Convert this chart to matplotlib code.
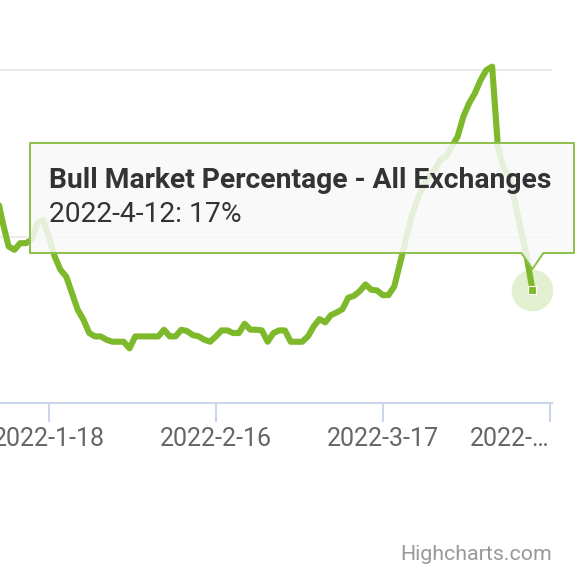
"""Bull market percentage line chart, Highcharts-style with hover tooltip."""

import matplotlib
matplotlib.use("Agg")
import matplotlib.pyplot as plt
import matplotlib.dates as mdates
import pandas as pd
from matplotlib.patches import Polygon

plt.rcParams["font.family"] = ["Roboto", "DejaVu Sans"]

# Daily bull market percentage, 2022-01-09 .. 2022-04-12
start_date = "2022-01-09"
bull_pct = [
    31, 27, 23.5, 23, 24, 24, 24.5, 27, 27.5, 25,
    22, 20, 19, 16.5, 14, 12.5, 10.5, 10, 10, 9.5,
    9.2, 9.2, 9.2, 8.2, 10, 10, 10, 10, 10, 11,
    10, 10, 11, 10.8, 10.2, 10, 9.5, 9.2, 10, 10.9,
    10.9, 10.5, 10.5, 11.9, 11, 11, 10.9, 9.2, 10.5, 10.9,
    10.9, 9.2, 9.2, 9.2, 10, 11.5, 12.6, 12.1, 13.2, 13.6,
    14.1, 15.8, 16.1, 16.8, 17.8, 17, 16.9, 16.2, 16.2, 17.5,
    21, 24.5, 28, 30.5, 32.5, 34, 35, 36.5, 37, 38.5,
    40, 43, 45, 46.5, 48.5, 50, 50.5, 38.5, 35.3, 34,
    30, 26, 22, 17,
]
tick_dates = ["2022-01-18", "2022-02-16", "2022-03-17", "2022-04-15"]
tick_labels = ["2022-1-18", "2022-2-16", "2022-3-17", "2022-…"]
grid_levels = [25, 50]
series_name = "Bull Market Percentage - All Exchanges"
hover_label = "2022-4-12: 17%"

dates = pd.date_range(start_date, periods=len(bull_pct), freq="D")
green = "#7db92b"

W, H = 576, 573
fig = plt.figure(figsize=(W / 100, H / 100), dpi=100)


def fx(x):
    return x / W


def fy(y):
    return 1 - y / H


# axes: x spans pixel 0..552, y: value 0 at pixel 403, 50 at pixel 70
ax = fig.add_axes([0, fy(403), fx(552), 403 / H])
ax.set_ylim(0, 403 / (333 / 50))
ax.set_xlim(pd.Timestamp("2022-01-18") - pd.Timedelta(days=8.5),
            pd.Timestamp("2022-04-15") + pd.Timedelta(days=0.4))

for g in grid_levels:
    ax.axhline(g, color="#e6e6e6", lw=1.2, zorder=1)

ax.plot(dates, bull_pct, color=green, lw=4.4, solid_joinstyle="round",
        solid_capstyle="round", zorder=3, clip_on=False)

# hover halo + marker on the last point
last_x = mdates.date2num(dates[-1])
ax.scatter([dates[-1]], [bull_pct[-1]], s=900, color=green, alpha=0.22,
           linewidths=0, zorder=2)
ax.scatter([dates[-1]], [bull_pct[-1]], s=34, marker="s", color=green,
           edgecolors="white", linewidths=0.8, zorder=4)

for side in ["top", "right", "left"]:
    ax.spines[side].set_visible(False)
ax.spines["bottom"].set_color("#ccd6eb")
ax.spines["bottom"].set_linewidth(1.5)
ax.set_yticks([])
ax.set_xticks(pd.to_datetime(tick_dates))
ax.set_xticklabels(tick_labels, fontsize=18, color="#666666")
ax.get_xticklabels()[-1].set_horizontalalignment("right")
ax.tick_params(axis="x", length=14, width=1.5, color="#ccd6eb", pad=3)
ax.set_facecolor("none")

# tooltip callout (pixel layout)
L, R, T, B = 30, 574, 143, 253
mx = ax.transData.transform((last_x, bull_pct[-1]))[0]
callout = [
    (L, T), (R, T), (R, B), (mx + 11, B), (mx, B + 16), (mx - 11, B), (L, B),
]
poly = Polygon([(fx(x), fy(y)) for x, y in callout], closed=True,
               transform=fig.transFigure, facecolor="#f9f9f9", alpha=0.85,
               edgecolor="none", zorder=10)
fig.add_artist(poly)
edge = Polygon([(fx(x), fy(y)) for x, y in callout], closed=True,
               transform=fig.transFigure, facecolor="none",
               edgecolor="#8cc04a", lw=1.4, joinstyle="round", zorder=11)
fig.add_artist(edge)

fig.text(fx(49), fy(181), series_name, fontsize=20.3, fontweight="bold",
         color="#333333", va="center", ha="left", zorder=12)
fig.text(fx(49), fy(215), hover_label, fontsize=20.3, color="#333333",
         va="center", ha="left", zorder=12)

fig.text(fx(552), fy(555), "Highcharts.com", fontsize=15.4, color="#999999",
         ha="right", va="center")

fig.savefig("out.png", dpi=100)
